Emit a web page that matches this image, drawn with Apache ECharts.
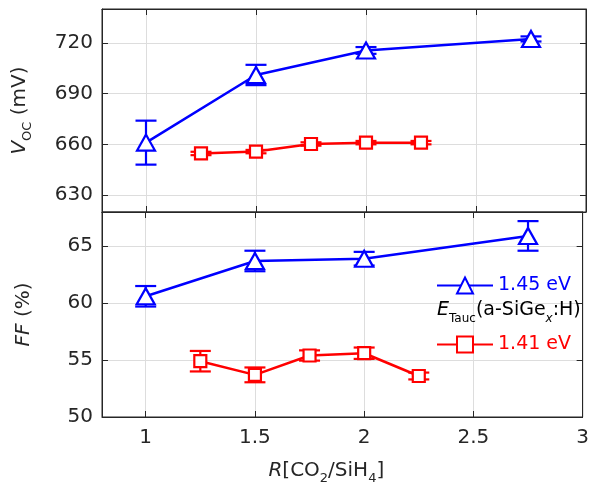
<!DOCTYPE html>
<html>
<head>
<meta charset="utf-8">
<script src="https://cdn.jsdelivr.net/npm/echarts@6/dist/echarts.min.js"></script>
<style>html,body{margin:0;padding:0;background:#fff}#c{width:592px;height:489px}</style>
</head>
<body>
<div id="c"></div>
<script>
// ---- data ----
var xBlue = [1, 1.5, 2, 2.75];
var xRed = [1.25, 1.5, 1.75, 2, 2.25];
var vocBlue = [661, 701, 715.5, 722.3];
var vocBlueErr = [13, 6, 2, 1.5];
var vocRed = [654.6, 655.7, 660.2, 661, 661];
var vocRedErr = [1, 1, 1, 1, 1];
var ffBlue = [60.6, 63.7, 63.9, 65.9];
var ffBlueErr = [0.9, 0.9, 0.6, 1.3];
var ffRed = [54.9, 53.7, 55.4, 55.6, 53.6];
var ffRedErr = [0.9, 0.65, 0.45, 0.5, 0.3];
var xTicks = [1, 1.5, 2, 2.5, 3];
var vocTicks = [630, 660, 690, 720];
var ffTicks = [50, 55, 60, 65];
var nameBlue = '1.45 eV';
var nameRed = '1.41 eV';

var BLUE = '#0000ff', RED = '#ff0000', AX = '#262626', GRIDC = '#dddddd';
var FONT = 'DejaVu Sans';

function pts(xs, ys) { return xs.map(function (x, i) { return [x, ys[i]]; }); }
function errPts(xs, ys, es) { return xs.map(function (x, i) { return [x, ys[i], es[i]]; }); }

function errSeries(xi, yi, data, color) {
  return {
    type: 'custom', xAxisIndex: xi, yAxisIndex: yi, data: data, z: 2, silent: true,
    renderItem: function (params, api) {
      var x = api.value(0), y = api.value(1), e = api.value(2);
      var a = api.coord([x, y + e]), b = api.coord([x, y - e]);
      var w = 10.5;
      var st = { stroke: color, lineWidth: 2.2 };
      return { type: 'group', children: [
        { type: 'line', shape: { x1: a[0], y1: a[1], x2: b[0], y2: b[1] }, style: st },
        { type: 'line', shape: { x1: a[0] - w, y1: a[1], x2: a[0] + w, y2: a[1] }, style: st },
        { type: 'line', shape: { x1: b[0] - w, y1: b[1], x2: b[0] + w, y2: b[1] }, style: st }
      ] };
    }
  };
}
function lineSeries(name, xi, yi, data, color, sym, size) {
  return {
    name: name, type: 'line', xAxisIndex: xi, yAxisIndex: yi, data: data, z: 3,
    symbol: sym, symbolSize: size, showAllSymbol: true,
    lineStyle: { color: color, width: 2.5 },
    itemStyle: { color: '#fff', borderColor: color, borderWidth: 2.2 },
    emphasis: { disabled: true }, animation: false
  };
}
function xAx(gi, pos, labels) {
  return {
    type: 'value', gridIndex: gi, position: pos, min: 0.8, max: 3,
    axisLine: { show: true, lineStyle: { color: AX, width: 1 } },
    axisTick: { show: true, inside: true, length: 6, customValues: xTicks, lineStyle: { color: AX } },
    axisLabel: { show: labels, customValues: xTicks, margin: 11, fontFamily: FONT, fontSize: 20, color: AX,
      formatter: function (v) { return String(v); } },
    splitLine: { show: pos === 'bottom', lineStyle: { color: GRIDC, width: 1 } }
  };
}
function yAx(gi, pos, min, max, ticks, labels, name) {
  var o = {
    type: 'value', gridIndex: gi, position: pos, min: min, max: max,
    axisLine: { show: true, lineStyle: { color: AX, width: 1 } },
    axisTick: { show: true, inside: true, length: 6, customValues: ticks, lineStyle: { color: AX } },
    axisLabel: { show: labels, customValues: ticks, margin: 9, fontFamily: FONT, fontSize: 20, color: AX },
    splitLine: { show: pos === 'left', lineStyle: { color: GRIDC, width: 1 } }
  };
  if (name) {
    o.name = name.text; o.nameLocation = 'middle'; o.nameGap = name.gap; o.nameRotate = 90;
    o.nameTextStyle = { fontFamily: FONT, fontSize: 20, color: AX, rich: name.rich };
  }
  return o;
}

var chart = echarts.init(document.getElementById('c'), null, { renderer: 'canvas' });
var option = {
  animation: false,
  backgroundColor: '#fff',
  grid: [
    { left: 102, top: 9, width: 484, height: 203, show: true, borderColor: AX, borderWidth: 1, backgroundColor: 'transparent' },
    { left: 102, top: 212, width: 484, height: 205, show: true, borderColor: AX, borderWidth: 1, backgroundColor: 'transparent' }
  ],
  xAxis: [
    xAx(0, 'bottom', false), xAx(0, 'top', false),
    (function () { var a = xAx(1, 'bottom', true);
      a.name = '{i|R}[CO{s|2}/SiH{s|4}]'; a.nameLocation = 'middle'; a.nameGap = 40;
      a.nameTextStyle = { fontFamily: FONT, fontSize: 20, color: AX, padding: [0, 32, 0, 0],
        rich: { i: { fontFamily: FONT, fontSize: 20, fontStyle: 'italic', color: AX, lineHeight: 28 },
                s: { fontFamily: FONT, fontSize: 13, color: AX, verticalAlign: 'bottom', lineHeight: 28 } } };
      return a; })(),
    xAx(1, 'top', false)
  ],
  yAxis: [
    yAx(0, 'left', 620, 740, vocTicks, true, { text: '{i|V}{s|OC} (mV)', gap: 68,
      rich: { i: { fontFamily: FONT, fontSize: 20, fontStyle: 'italic', color: AX, lineHeight: 28 },
              s: { fontFamily: FONT, fontSize: 13, color: AX, verticalAlign: 'bottom', lineHeight: 28 } } }),
    yAx(0, 'right', 620, 740, vocTicks, false),
    yAx(1, 'left', 50, 68, ffTicks, true, { text: '{i|FF} (%)', gap: 68,
      rich: { i: { fontFamily: FONT, fontSize: 20, fontStyle: 'italic', color: AX } } }),
    yAx(1, 'right', 50, 68, ffTicks, false)
  ],
  legend: {
    orient: 'vertical', left: 436, top: 276, itemWidth: 56, itemHeight: 20, itemGap: 40,
    padding: 0, selectedMode: false,
    textStyle: { fontFamily: FONT, fontSize: 19 },
    data: [
      { name: nameBlue, textStyle: { color: BLUE } },
      { name: nameRed, textStyle: { color: RED } }
    ]
  },
  graphic: [{
    type: 'text', left: 437, top: 301, z: 10,
    style: {
      text: '{i|E}{s|Tauc}(a-SiGe{si|x}:H)', fill: '#000', font: '19px "DejaVu Sans"',
      rich: {
        i: { fontFamily: FONT, fontSize: 19, fontStyle: 'italic', fill: '#000', lineHeight: 28 },
        s: { fontFamily: FONT, fontSize: 12, fill: '#000', verticalAlign: 'bottom', lineHeight: 28 },
        si: { fontFamily: FONT, fontSize: 12, fontStyle: 'italic', fill: '#000', verticalAlign: 'bottom', lineHeight: 28 }
      }
    }
  }],
  series: [
    errSeries(0, 0, errPts(xBlue, vocBlue, vocBlueErr), BLUE),
    errSeries(0, 0, errPts(xRed, vocRed, vocRedErr), RED),
    lineSeries(nameBlue, 0, 0, pts(xBlue, vocBlue), BLUE, 'triangle', [18, 16]),
    lineSeries(nameRed, 0, 0, pts(xRed, vocRed), RED, 'rect', 12),
    errSeries(2, 2, errPts(xBlue, ffBlue, ffBlueErr), BLUE),
    errSeries(2, 2, errPts(xRed, ffRed, ffRedErr), RED),
    lineSeries(nameBlue, 2, 2, pts(xBlue, ffBlue), BLUE, 'triangle', [18, 16]),
    lineSeries(nameRed, 2, 2, pts(xRed, ffRed), RED, 'rect', 12)
  ]
};
chart.setOption(option);
</script>
</body>
</html>
